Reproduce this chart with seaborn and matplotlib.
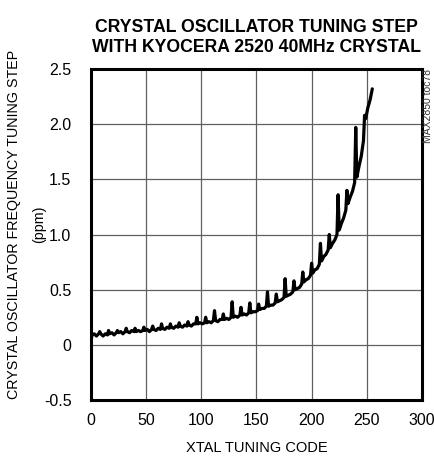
import matplotlib
matplotlib.use("Agg")
import matplotlib.pyplot as plt
import seaborn as sns

# XTAL tuning code vs. tuning step (ppm)
codes = [
    0, 1, 3, 5, 7,
    8, 9, 11, 13, 15,
    16, 17, 19, 21, 23,
    24, 25, 27, 29, 31,
    32, 33, 35, 37, 39,
    40, 41, 43, 45, 47,
    48, 49, 51, 53, 55,
    56, 57, 59, 61, 63,
    64, 65, 67, 69, 71,
    72, 73, 75, 77, 79,
    80, 81, 83, 85, 87,
    88, 89, 91, 93, 95,
    96, 97, 99, 101, 103,
    104, 105, 107, 109, 111,
    112, 113, 115, 117, 119,
    120, 121, 123, 125, 127,
    128, 129, 131, 133, 135,
    136, 137, 139, 141, 143,
    144, 145, 147, 149, 151,
    152, 153, 155, 157, 159,
    160, 161, 163, 165, 167,
    168, 169, 171, 173, 175,
    176, 177, 179, 181, 183,
    184, 185, 187, 189, 191,
    192, 193, 195, 197, 199,
    200, 201, 203, 205, 207,
    208, 209, 211, 213, 215,
    216, 217, 219, 221, 223,
    224, 225, 227, 229, 231,
    232, 233, 235, 237, 239,
    240, 241, 243, 245, 247,
    248, 249, 251, 253, 255,
]
steps = [
    0.03, 0.09, 0.10, 0.08, 0.10,
    0.12, 0.10, 0.08, 0.10, 0.09,
    0.13, 0.10, 0.11, 0.09, 0.11,
    0.13, 0.11, 0.12, 0.10, 0.12,
    0.15, 0.12, 0.11, 0.13, 0.12,
    0.15, 0.12, 0.13, 0.12, 0.13,
    0.16, 0.13, 0.14, 0.12, 0.14,
    0.17, 0.14, 0.13, 0.15, 0.14,
    0.19, 0.15, 0.14, 0.16, 0.15,
    0.19, 0.16, 0.15, 0.17, 0.16,
    0.20, 0.17, 0.16, 0.18, 0.17,
    0.21, 0.18, 0.17, 0.19, 0.19,
    0.25, 0.19, 0.20, 0.19, 0.20,
    0.25, 0.20, 0.21, 0.20, 0.22,
    0.31, 0.22, 0.21, 0.23, 0.23,
    0.28, 0.23, 0.24, 0.23, 0.25,
    0.39, 0.25, 0.26, 0.25, 0.27,
    0.34, 0.27, 0.28, 0.27, 0.29,
    0.38, 0.29, 0.30, 0.30, 0.31,
    0.37, 0.32, 0.33, 0.33, 0.35,
    0.48, 0.35, 0.36, 0.36, 0.38,
    0.46, 0.39, 0.40, 0.41, 0.43,
    0.60, 0.44, 0.45, 0.46, 0.48,
    0.58, 0.50, 0.51, 0.52, 0.55,
    0.66, 0.57, 0.59, 0.60, 0.63,
    0.74, 0.65, 0.68, 0.69, 0.73,
    0.92, 0.76, 0.80, 0.82, 0.86,
    1.00, 0.88, 0.92, 0.95, 1.00,
    1.36, 1.04, 1.10, 1.15, 1.22,
    1.40, 1.28, 1.34, 1.39, 1.47,
    1.97, 1.52, 1.62, 1.71, 1.85,
    2.08, 2.05, 2.15, 2.22, 2.32,
]
x_ticks = [0, 50, 100, 150, 200, 250, 300]
y_ticks = [-0.5, 0, 0.5, 1.0, 1.5, 2.0, 2.5]
y_tick_labels = ["-0.5", "0", "0.5", "1.0", "1.5", "2.0", "2.5"]

sns.set_style("white")
plt.rcParams['font.family'] = ['Liberation Sans', 'DejaVu Sans']
plt.rcParams['text.color'] = 'black'
plt.rcParams['axes.labelcolor'] = 'black'

fig = plt.figure(figsize=(4.35, 4.59), dpi=100)
ax = fig.add_axes([0.209, 0.1285, 0.761, 0.7212])

sns.lineplot(x=codes, y=steps, ax=ax, color='black', linewidth=2.3, estimator=None)

ax.set_xlim(0, 300)
ax.set_ylim(-0.5, 2.5)
ax.set_xticks(x_ticks)
ax.set_yticks(y_ticks)
ax.set_yticklabels(y_tick_labels)
ax.tick_params(axis='both', length=0, labelsize=11.5, colors='black')
ax.tick_params(axis='y', pad=14)
ax.tick_params(axis='x', pad=9)
ax.grid(True, color='#606060', linewidth=0.9)

for spine in ax.spines.values():
    spine.set_visible(True)
    spine.set_color('black')
    spine.set_linewidth(2.2)

ax.set_xlabel("XTAL TUNING CODE", fontsize=10.5, color='black')
ax.xaxis.set_label_coords(0.5, -0.125)
ax.set_ylabel("CRYSTAL OSCILLATOR FREQUENCY TUNING STEP\n(ppm)", fontsize=10.3,
              linespacing=2.0, color='black')
ax.yaxis.set_label_coords(-0.135, 0.53)

ax.set_title("CRYSTAL OSCILLATOR TUNING STEP\nWITH KYOCERA 2520 40MHz CRYSTAL",
             fontsize=12.7, fontweight='bold', pad=12, linespacing=1.25, color='black')

fig.text(0.984, 0.85, "MAX2850 toc78", rotation=90, ha='center', va='top',
         fontsize=7.5, color='#333333')

fig.savefig("out.png", dpi=100)
plt.close(fig)
